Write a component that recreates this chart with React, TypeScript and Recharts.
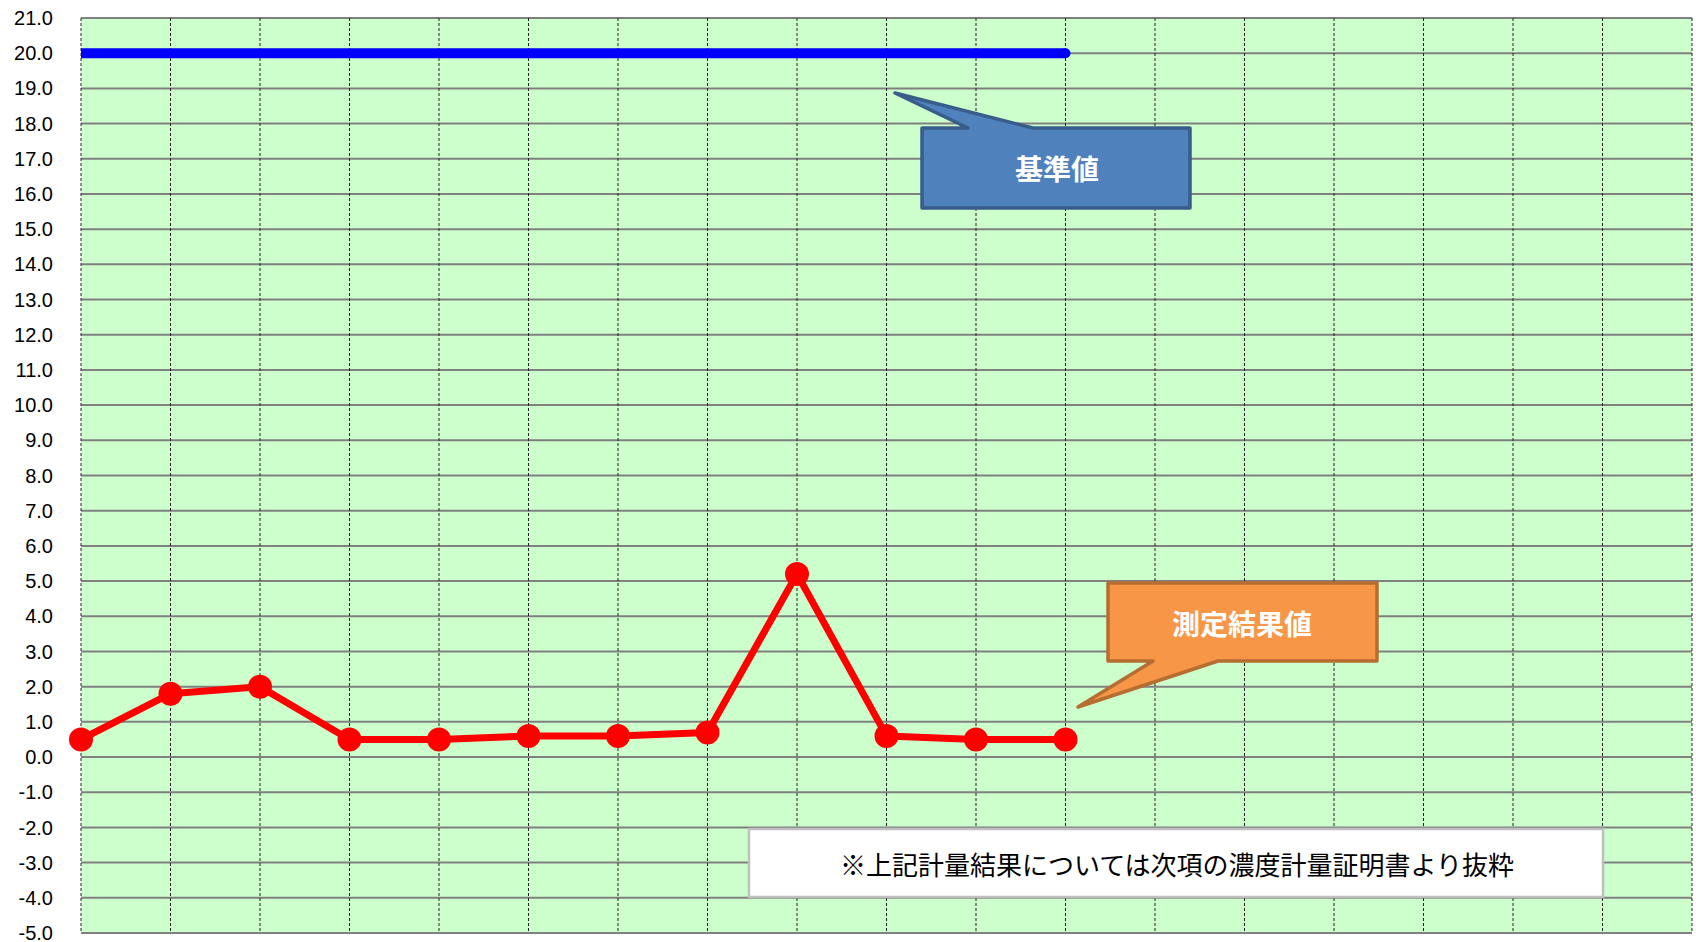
import { LineChart, Line, XAxis, YAxis, CartesianGrid } from 'recharts'

const positions = [0, 1, 2, 3, 4, 5, 6, 7, 8, 9, 10, 11]
const measured = [0.5, 1.8, 2.0, 0.5, 0.5, 0.6, 0.6, 0.7, 5.2, 0.6, 0.5, 0.5]
const standard = [20, 20, 20, 20, 20, 20, 20, 20, 20, 20, 20, 20]
const xTicks = [0, 1, 2, 3, 4, 5, 6, 7, 8, 9, 10, 11, 12, 13, 14, 15, 16, 17, 18]
const yTicks = [-5, -4, -3, -2, -1, 0, 1, 2, 3, 4, 5, 6, 7, 8, 9, 10, 11, 12, 13, 14, 15, 16, 17, 18, 19, 20, 21]

const standardLabel = '基準値'
const measuredLabel = '測定結果値'
const note = '※上記計量結果については次項の濃度計量証明書より抜粋'

const rows = positions.map((x, i) => ({ x, measured: measured[i], standard: standard[i] }))

const W = 1696
const H = 942
const jp = '"Noto Sans CJK JP", "Noto Sans", sans-serif'

// round only the right end of the 基準値 line, like the original
const StandardEnd = (props: any) => {
  const { cx, cy, index } = props
  if (index !== rows.length - 1) return <g key={index} />
  return <circle key={index} cx={cx} cy={cy} r={5} fill="#0000FF" />
}

export default function App() {
  return (
    <div style={{ position: 'relative', width: W, height: H, background: '#fff' }}>
      <style>{`body{margin:0}`}</style>
      <LineChart width={W} height={H} data={rows} margin={{ top: 18, right: 4, bottom: 9, left: 0 }}>
        <CartesianGrid horizontal={true} vertical={false} fill="#CCFFCC" stroke="#808080" strokeWidth={2} />
        <CartesianGrid
          horizontal={false}
          vertical={true}
          syncWithTicks
          stroke="#222"
          strokeWidth={1}
          strokeDasharray="3 2"
        />
        <XAxis
          dataKey="x"
          type="number"
          domain={[0, 18]}
          ticks={xTicks}
          interval={0}
          height={0}
          tick={() => <g />}
          axisLine={false}
          tickLine={false}
        />
        <YAxis
          type="number"
          domain={[-5, 21]}
          ticks={yTicks}
          interval={0}
          width={81}
          axisLine={false}
          tickLine={false}
          tickSize={0}
          tickMargin={28}
          tickFormatter={(v: number) => v.toFixed(1)}
          tick={{ fill: '#000', fontSize: 20, fontFamily: '"Liberation Sans", Arial, sans-serif' }}
        />
        <Line
          dataKey="standard"
          stroke="#0000FF"
          strokeWidth={10}
          strokeLinecap="butt"
          dot={StandardEnd}
          activeDot={false}
          isAnimationActive={false}
        />
        <Line
          dataKey="measured"
          stroke="#FF0000"
          strokeWidth={7}
          strokeLinejoin="round"
          dot={{ r: 12, fill: '#FF0000', stroke: '#FF0000', strokeWidth: 0 }}
          isAnimationActive={false}
        />
      </LineChart>
      <svg width={W} height={H} style={{ position: 'absolute', left: 0, top: 0, pointerEvents: 'none' }}>
        {/* 基準値 callout */}
        <path
          d="M922,128 L968,128 L895,93 L1033,128 L1190,128 L1190,208 L922,208 Z"
          fill="#4F81BD"
          stroke="#385D8A"
          strokeWidth={3.5}
          strokeLinejoin="round"
        />
        <text x={1057} y={168} textAnchor="middle" dominantBaseline="central" fill="#fff" fontSize={28} fontWeight="bold" fontFamily={jp}>
          {standardLabel}
        </text>
        {/* 測定結果値 callout */}
        <path
          d="M1108,583 L1377,583 L1377,661 L1218,661 L1078,707 L1153,661 L1108,661 Z"
          fill="#F79646"
          stroke="#B66D31"
          strokeWidth={3.5}
          strokeLinejoin="round"
        />
        <text x={1242} y={623} textAnchor="middle" dominantBaseline="central" fill="#fff" fontSize={28} fontWeight="bold" fontFamily={jp}>
          {measuredLabel}
        </text>
        {/* note */}
        <rect x={749} y={829} width={854} height={68} fill="#fff" stroke="#BFBFBF" strokeWidth={2.5} />
        <text x={1177} y={863} textAnchor="middle" dominantBaseline="central" fill="#000" fontSize={26} fontFamily={jp}>
          {note}
        </text>
      </svg>
    </div>
  )
}
